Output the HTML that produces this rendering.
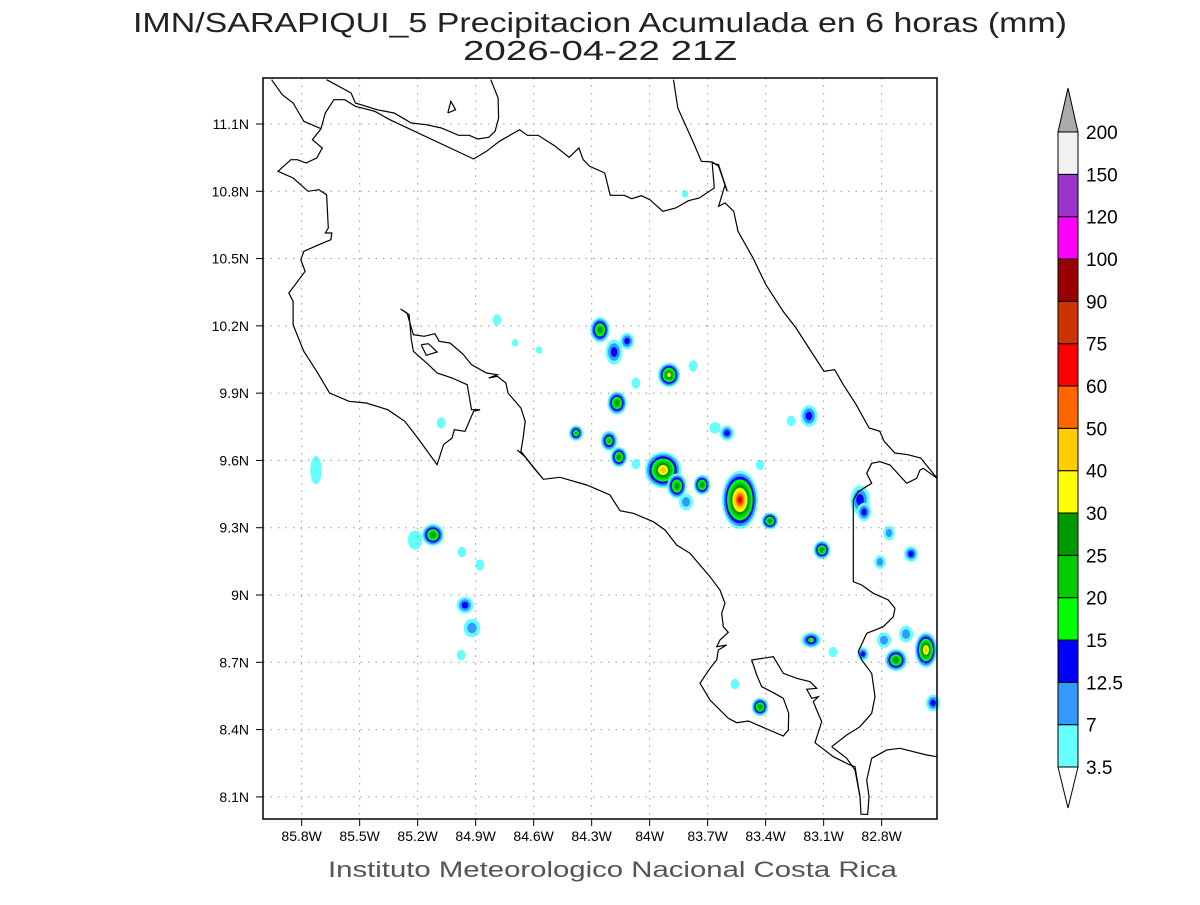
<!DOCTYPE html>
<html><head><meta charset="utf-8">
<style>
body{margin:0;background:#fff;}
svg text{font-family:"Liberation Sans",sans-serif;}
</style></head>
<body>
<svg id="c" width="1200" height="900" xmlns="http://www.w3.org/2000/svg">
<rect width="1200" height="900" fill="#fff"/>
<text x="133" y="32" textLength="934" lengthAdjust="spacingAndGlyphs" font-size="28" fill="#222">IMN/SARAPIQUI_5 Precipitacion Acumulada en 6 horas (mm)</text>
<text x="463" y="60" textLength="274" lengthAdjust="spacingAndGlyphs" font-size="28" fill="#222">2026-04-22 21Z</text>
<text x="328" y="877" textLength="569" lengthAdjust="spacingAndGlyphs" font-size="22" fill="#555">Instituto Meteorologico Nacional Costa Rica</text>
<g id="blobs"></g>
<g id="grid"></g>
<g id="coast" fill="none" stroke="#000" stroke-width="1.2"></g>
<rect x="263" y="78" width="674" height="741" fill="none" stroke="#000" stroke-width="1.5"/>
<g id="axes"></g>
<g id="cbar"></g>
</svg>
<script>
const lonTicks=[85.8,85.5,85.2,84.9,84.6,84.3,84.0,83.7,83.4,83.1,82.8];
const lonLabels=["85.8W","85.5W","85.2W","84.9W","84.6W","84.3W","84W","83.7W","83.4W","83.1W","82.8W"];
const latTicks=[11.1,10.8,10.5,10.2,9.9,9.6,9.3,9.0,8.7,8.4,8.1];
const latLabels=["11.1N","10.8N","10.5N","10.2N","9.9N","9.6N","9.3N","9N","8.7N","8.4N","8.1N"];
const levels=["3.5","7","12.5","15","20","25","30","40","50","60","75","90","100","120","150","200"];
const levelColors=["#66ffff","#3399ff","#0000ff","#00ff00","#00cc00","#009900","#ffff00","#ffcc00","#ff6600","#ff0000","#cc3300","#990000","#ff00ff","#9933cc","#f2f2f2"];
// precipitation cells: west longitude, latitude, max level index, radius (deg), aspect (N-S / E-W)
const cellLon=[84.257,84.117,84.184,83.900,83.776,84.071,84.169,84.381,84.210,84.159,83.600,83.662,83.176,83.269,83.931,83.859,83.729,83.533,83.378,84.071,83.812,83.109,82.912,82.891,82.762,82.809,82.648,83.165,83.052,82.897,82.788,82.674,82.726,82.571,82.534,83.429,83.559,85.121,85.214,84.955,84.919,84.976,84.878,84.971,85.726,85.079,84.790,84.697,84.572,83.817,83.429];
const cellLat=[10.182,10.132,10.083,9.981,10.021,9.945,9.856,9.722,9.687,9.615,9.722,9.745,9.798,9.776,9.557,9.486,9.491,9.424,9.330,9.584,9.415,9.201,9.424,9.370,9.276,9.147,9.183,8.799,8.746,8.737,8.799,8.826,8.710,8.755,8.519,8.501,8.603,9.268,9.245,8.955,8.853,8.733,9.134,9.192,9.557,9.767,10.226,10.124,10.092,10.788,9.580];
const cellLevel=[5,2,2,6,0,0,5,4,4,5,2,0,2,0,7,5,5,9,5,0,1,5,2,2,1,1,2,3,0,2,1,1,5,7,2,5,0,5,0,2,1,0,0,0,0,0,0,0,0,0,0];
const cellR=[0.036,0.026,0.031,0.041,0.016,0.016,0.036,0.026,0.031,0.031,0.026,0.021,0.031,0.016,0.067,0.036,0.031,0.067,0.031,0.016,0.026,0.031,0.036,0.026,0.021,0.021,0.026,0.036,0.016,0.021,0.026,0.026,0.041,0.041,0.026,0.031,0.016,0.041,0.026,0.031,0.031,0.016,0.016,0.016,0.021,0.016,0.016,0.010,0.010,0.010,0.016];
const cellAspect=[1.3,1.2,1.5,1.1,1.3,1.3,1.2,1.1,1.2,1.2,1.1,1,1.3,1.2,1.0,1.3,1.2,1.6,1.0,1.2,1.2,1.1,1.5,1.3,1.3,1.2,1.1,0.8,1.2,1.2,1.1,1.2,1.0,1.6,1.2,1.1,1.2,1.0,1.4,1.0,1.1,1.2,1.3,1.2,2.5,1.3,1.3,1.2,1.2,1.2,1.2];

const X=lw=>263+(86.0-lw)*193.33;
const Y=lt=>78+(11.305-lt)*224.3;
const NS="http://www.w3.org/2000/svg";
function mk(t,a,p){const e=document.createElementNS(NS,t);for(const k in a)e.setAttribute(k,a[k]);p.appendChild(e);return e;}

// blobs
const bg=document.getElementById('blobs');
for(let i=0;i<cellLon.length;i++){
  const k=cellLevel[i],cx=X(cellLon[i]),cy=Y(cellLat[i]);
  const rx=Math.max(3.2,cellR[i]*193.33*1.4),ry=rx*cellAspect[i];
  for(let j=0;j<=k;j++){
    const f=1-j/(k+1.3);
    const e=mk('ellipse',{cx:cx,cy:cy,rx:rx*f,ry:ry*f,fill:levelColors[j]},bg);
    
    
  }
}
// grid + ticks
const gg=document.getElementById('grid'),ax=document.getElementById('axes');
lonTicks.forEach((v,i)=>{const x=X(v);
  mk('line',{x1:x,y1:78,x2:x,y2:819,stroke:'#999','stroke-dasharray':'1.5 6','stroke-width':1},gg);
  mk('line',{x1:x,y1:819,x2:x,y2:826,stroke:'#000'},ax);
  const t=mk('text',{x:x,y:841,'text-anchor':'middle','font-size':14,fill:'#000'},ax);t.textContent=lonLabels[i];
  
  });
latTicks.forEach((v,i)=>{const y=Y(v);
  mk('line',{x1:263,y1:y,x2:937,y2:y,stroke:'#999','stroke-dasharray':'1.5 6','stroke-width':1},gg);
  mk('line',{x1:256,y1:y,x2:263,y2:y,stroke:'#000'},ax);
  const t=mk('text',{x:249,y:y+5,'text-anchor':'end','font-size':14,fill:'#000'},ax);t.textContent=latLabels[i];
  
  });

const z1=s=>s.map(p=>[263+p[0]*674/1568,78+p[1]/3]);
const z2=s=>s.map(p=>[500+p[0]/3,420+p[1]/3]);
const coastLines=[
 z1([[148,5],[205,45],[215,75],[265,95],[305,105],[345,135],[380,140],[415,150],[455,172],[480,172],[500,183],[525,178],[540,160],[548,120],[547,60],[530,5]]),
 z1([[20,5],[45,50],[70,75],[95,130],[135,152],[145,105],[165,65],[190,65],[215,85],[260,100],[295,125],[490,243],[520,220],[550,190],[597,155],[615,172],[640,172],[680,205],[712,238],[735,210],[745,245],[760,265],[795,285],[808,352],[840,352],[858,362],[880,353],[900,365],[930,400],[960,390],[990,368],[1015,360],[1050,330],[1045,255],[1060,260],[1080,340]]),
 z1([[135,152],[115,185],[138,210],[125,240],[100,255],[80,245],[65,245],[35,280],[70,300],[105,340],[130,335],[148,350],[152,450],[145,465],[160,465],[158,485],[130,500],[95,520],[88,545],[98,580],[75,620],[60,645],[70,670],[70,740],[95,820],[125,880],[155,945],[200,970],[240,975],[290,995],[330,1030],[360,1080],[405,1160],[415,1120],[420,1100],[440,1080],[445,1055],[470,1060],[490,1000],[505,995],[485,995],[475,920],[440,900],[405,885],[385,860],[350,820],[345,785],[340,710],[320,693],[335,705],[350,770],[375,775],[400,767],[410,790],[435,795],[465,828],[485,860],[520,885],[545,890],[525,900],[545,895],[565,915],[570,945],[600,990],[610,1030],[605,1080],[600,1120],[630,1170],[650,1200]]),
 z1([[430,105],[437,70],[448,95],[430,105]]),
 z1([[368,800],[385,797],[405,822],[380,832],[368,800]]),
 z1([[955,5],[965,90],[1000,190],[1020,250],[1045,252],[1060,265],[1080,340],[1075,320],[1060,385],[1075,375],[1095,400],[1105,460],[1140,540],[1170,620],[1210,700],[1240,750],[1270,810],[1305,880],[1330,875],[1350,920],[1380,980],[1410,1050],[1435,1060],[1445,1090],[1470,1125],[1500,1130],[1530,1140],[1555,1180],[1568,1200]]),
 z2([[52,90],[75,110],[130,178],[180,172],[260,195],[330,225],[360,272],[400,280],[460,305],[495,330],[530,375],[570,400],[600,435],[630,470],[660,510],[675,550],[665,580],[670,620],[685,637],[660,660],[650,680],[680,675],[655,690],[650,720],[630,745],[600,790],[630,840],[685,895],[710,908],[745,903],[850,948],[865,930],[866,880],[850,835],[820,818],[785,800],[770,765],[755,720],[820,710],[850,760],[890,775],[930,785],[950,805],[920,808],[935,835],[955,830],[940,845],[950,870],[965,905],[945,968],[1000,1010],[1050,1035],[1065,1040],[1080,1130],[1083,1183],[1103,1183],[1107,1130],[1100,1080],[1115,1015],[1160,990],[1200,985],[1280,1005],[1311,1010]]),
 z2([[995,980],[1040,945],[1080,920],[1115,880],[1125,830],[1115,760],[1085,720],[1075,695],[1100,640],[1150,620],[1180,590],[1185,565],[1165,540],[1120,520],[1085,495],[1060,485],[1060,240],[1075,215],[1115,190],[1100,160],[1115,130],[1140,125],[1170,135],[1220,190],[1250,175],[1260,150],[1270,145],[1311,175]]),
 z2([[995,980],[1040,1015],[1065,1050],[1080,1130]])
];
const cg=document.getElementById('coast');
coastLines.forEach(l=>{mk('polyline',{points:l.map(p=>p[0].toFixed(1)+','+p[1].toFixed(1)).join(' ')},cg);});

// colorbar
const cb=document.getElementById('cbar');
const cbTop=132,cbBot=767,cbStep=(cbBot-cbTop)/15,cbX=1058,cbW=20;
for(let i=0;i<15;i++){
  const y=cbBot-(i+1)*cbStep;
  const r=mk('rect',{x:cbX,y:y,width:cbW,height:cbStep,fill:levelColors[i],stroke:'#000','stroke-width':1},cb);
  
  
}
mk('polygon',{points:`${cbX},${cbTop} ${cbX+cbW},${cbTop} ${cbX+cbW/2},88`,fill:'#aaa',stroke:'#000'},cb);
mk('polygon',{points:`${cbX},${cbBot} ${cbX+cbW},${cbBot} ${cbX+cbW/2},808`,fill:'#fff',stroke:'#000'},cb);
levels.forEach((l,i)=>{
  const t=mk('text',{x:1086,y:cbBot-i*cbStep+7,'font-size':19,fill:'#000'},cb);t.textContent=l;
  
  
});
</script>
</body></html>
